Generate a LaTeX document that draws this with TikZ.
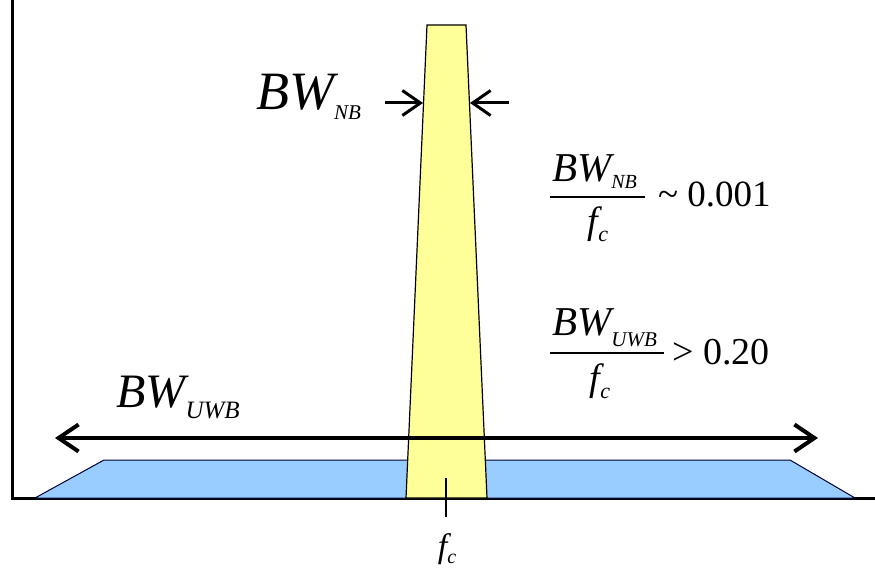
\documentclass[tikz,border=0pt]{standalone}
\usepackage{fontspec}
\setmainfont{Liberation Serif}
\usetikzlibrary{arrows.meta}
\definecolor{bandblue}{RGB}{153,204,255}
\definecolor{bandyellow}{RGB}{255,255,153}
\newcommand{\bwlbl}[4]{{\fontsize{#1}{#1}\selectfont BW}\raisebox{-#4pt}{\fontsize{#2}{#2}\selectfont #3}}
\newcommand{\fclbl}[3]{{\fontsize{#1}{#1}\selectfont f}\raisebox{-#3pt}{\fontsize{#2}{#2}\selectfont c}}

\begin{document}
\begin{tikzpicture}[x=1pt,y=1pt,
    lbl/.style={font=\itshape, inner sep=0pt, anchor=base west},
    den/.style={font=\itshape, inner sep=0pt, anchor=base},
    val/.style={inner sep=0pt, anchor=base west},
    fracbar/.style={line width=1.6pt},
    bigarrow/.style={{Straight Barb[length=20pt,width=27pt]}-{Straight Barb[length=20pt,width=27pt]}, line width=4pt},
    nbarrow/.style={-{Straight Barb[length=18pt,width=25pt]}, line width=3pt}]
                \useasboundingbox (0,0) rectangle (875,571);
                % axes
                \coordinate (top) at (12,571);
                \coordinate (orig) at (12,73);
                \coordinate (xend) at (875,73);
                \draw[line width=3pt] (top) -- (orig) -- (xend);
                % bands
                \draw[fill=bandblue, draw=black!80!blue, line width=1pt] (35,73) -- (104,111) -- (790,111) -- (855,73) -- cycle;
                \draw[fill=bandyellow, line width=1.2pt] (406,73) -- (427,546) -- (466,546) -- (487,73) -- cycle;
                % centre frequency
                \coordinate (fctop) at (446,93);
                \coordinate (fcbot) at (446,54);
                \draw[line width=1.5pt] (fctop) -- (fcbot);
                \node[den] (fc) at (447,14) {\fclbl{34}{20}{6}};
                % uwb arrow
                \coordinate (uwbL) at (55,133);
                \coordinate (uwbR) at (818,133);
                \draw[bigarrow] (uwbL) -- (uwbR);
                \node[lbl] (uwblbl) at (116,164) {\bwlbl{48}{25}{UWB}{11}};
                % nb arrows
                \coordinate (nbLa) at (385,468);
                \coordinate (nbLb) at (423,468);
                \coordinate (nbRa) at (509,468);
                \coordinate (nbRb) at (470,468);
                \draw[nbarrow] (nbLa) -- (nbLb);
                \draw[nbarrow] (nbRa) -- (nbRb);
                \node[lbl] (nblbl) at (256,461) {\bwlbl{54}{21}{NB}{10}};
                % ratios
                \node[lbl] (num1) at (552,389) {\bwlbl{41}{20}{NB}{7}};
                \draw[fracbar] (550,374) -- (645,374);
                \node[den] (den1) at (598,337) {\fclbl{38}{22}{8}};
                \node[val, font=\fontsize{37}{37}\selectfont] (val1) at (658,364) {\textasciitilde\ 0.001};
                \node[lbl] (num2) at (552,236) {\bwlbl{41}{21}{UWB}{11}};
                \draw[fracbar] (550,218) -- (664,218);
                \node[den] (den2) at (600,181) {\fclbl{38}{22}{8}};
                \node[val, font=\fontsize{38}{38}\selectfont] (val2) at (672,207) {>\ 0.20};
            \end{tikzpicture}
\end{document}
